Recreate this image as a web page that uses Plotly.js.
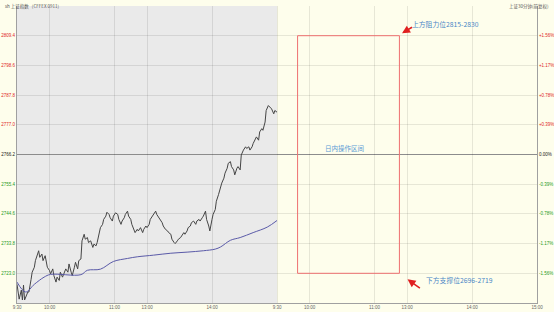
<!DOCTYPE html>
<html>
<head>
<meta charset="utf-8">
<script src="https://cdn.plot.ly/plotly-3.0.1.min.js"></script>
<style>html,body{margin:0;padding:0;background:#FEFEEC;}#chart{width:554px;height:312px;}</style>
</head>
<body>
<div id="chart"></div>
<script>
// Day-1 intraday price (minutes since 9:30, trading time)
const priceT = [0,2,4,5,6,7,10,11,13,14,16,17,20,21,23,24,26,28,30,31,33,34,36,37,39,40,42,43,45,47,48,50,51,53,54,56,57,59,60,62,63,65,66,68,70,71,73,74,76,77,79,80,82,83,85,86,88,89,91,93,94,96,97,99,100,102,103,105,106,108,109,111,112,114,116,117,119,120,122,123,125,126,128,129,131,132,134,135,137,139,140,142,143,145,146,148,149,151,152,154,155,157,158,160,161,163,165,166,168,169,171,172,174,175,177,178,180,181,183,184,186,188,189,191,192,194,195,197,198,200,201,203,204,206,207,209,211,212,214,215,217,218,220,221,223,224,226,227,229,230,232,234,235,237,238,240];
const priceV = [2719.0,2713.6,2716.9,2713.3,2718.7,2713.3,2716.2,2716.2,2720.8,2723.4,2725.2,2727.6,2731.2,2728.8,2730.0,2727.6,2729.4,2725.2,2724.0,2722.8,2724.6,2722.2,2719.8,2721.6,2720.4,2723.4,2721.6,2722.8,2724.6,2723.4,2726.4,2723.4,2722.2,2725.2,2727.0,2724.6,2727.6,2728.2,2734.8,2737.2,2735.4,2736.0,2734.2,2734.8,2732.4,2733.6,2733.0,2734.2,2738.4,2739.6,2740.8,2742.6,2743.8,2745.2,2744.4,2743.2,2742.0,2743.8,2745.0,2744.4,2742.6,2740.8,2742.0,2743.2,2744.4,2745.6,2743.8,2742.6,2740.8,2738.4,2737.8,2739.0,2738.4,2739.6,2737.8,2739.0,2740.2,2739.6,2740.8,2742.6,2743.8,2744.4,2745.6,2744.4,2743.2,2742.6,2741.4,2740.2,2739.0,2738.4,2737.8,2737.2,2735.4,2734.2,2733.8,2734.8,2735.4,2736.0,2736.6,2737.8,2737.2,2738.4,2739.6,2740.2,2741.4,2742.0,2740.8,2742.0,2742.6,2742.0,2743.2,2743.8,2745.6,2742.6,2740.2,2738.4,2742.6,2744.4,2746.2,2749.2,2751.6,2754.6,2755.8,2757.6,2759.4,2761.2,2763.0,2763.6,2761.8,2760.6,2758.8,2761.2,2761.8,2760.6,2766.0,2767.8,2769.0,2768.4,2769.0,2767.8,2769.0,2770.2,2772.0,2772.6,2771.4,2774.4,2775.6,2775.0,2778.0,2782.2,2784.0,2783.4,2782.8,2781.0,2782.2,2781.6];
// Day-1 average price line
const avgT = [0,8,16,25,31,59,65,77,89,102,111,126,142,157,172,183,188,197,206,218,231,240];
const avgV = [2719.8,2716.2,2719.0,2721.6,2722.6,2722.5,2724.1,2724.5,2727.3,2728.4,2729.0,2729.6,2730.3,2730.7,2731.2,2731.8,2732.6,2735.0,2736.0,2737.8,2739.8,2742.2];
// Axes
const prevClose = 2766.2;
const yTickVals = [2723.0,2733.8,2744.6,2755.4,2766.2,2777.0,2787.8,2798.6,2809.4];
const yTickText = ["2723.0","2733.8","2744.6","2755.4","2766.2","2777.0","2787.8","2798.6","2809.4"];
const pctTickText = ["-1.56%","-1.17%","-0.78%","-0.39%","0.00%","+0.39%","+0.78%","+1.17%","+1.56%"];
const xTickVals = [0,30,90,120,180,240,270,330,360,420,480];
const xTickText = ["9:30","10:00","11:00","13:00","14:00","9:30","10:00","11:00","13:00","14:00","15:00"];
// Operating zone and labels
const zoneT = [259, 353];
const zoneP = [2723.0, 2809.4];
const upperLabel = "上方阻力位2815-2830";
const lowerLabel = "下方支撑位2696-2719";
const midLabel = "日内操作区间";

function colorTicks(arr){
  return arr.map((s,i)=>{
    const v = yTickVals[i];
    const c = v > prevClose + 0.01 ? '#E02828' : (v < prevClose - 0.01 ? '#1E9A1E' : '#222');
    return '<span style="color:'+c+'">'+s+'</span>';
  });
}

const FONT = 'Liberation Sans, Arial, Noto Sans CJK SC, sans-serif';
const yr = [2712.2, 2820.2];

const traces = [
  {x: priceT, y: priceV, type:'scatter', mode:'lines', line:{color:'#454545', width:1}, hoverinfo:'skip'},
  {x: avgT, y: avgV, type:'scatter', mode:'lines', line:{color:'#5A5AA8', width:1, shape:'spline'}, hoverinfo:'skip'},
  {x: [0], y: [prevClose], yaxis:'y2', type:'scatter', mode:'markers', marker:{opacity:0}, hoverinfo:'skip'}
];

const layout = {
  width:554, height:312,
  margin:{l:17, r:17, t:6, b:9},
  paper_bgcolor:'#FEFEEC', plot_bgcolor:'#FEFEEC',
  showlegend:false,
  font:{family:FONT, size:4.5, color:'#555'},
  xaxis:{range:[0,480], tickvals:xTickVals, ticktext:xTickText, tickangle:0,
    showgrid:true, gridcolor:'rgba(0,0,0,0.09)', gridwidth:1, zeroline:false,
    showline:true, linecolor:'#A0A0A0', linewidth:1, ticks:'', ticklen:0,
    tickfont:{size:4.5, color:'#666'}, fixedrange:true},
  yaxis:{range:yr, tickvals:yTickVals, ticktext:colorTicks(yTickText), side:'left',
    showgrid:true, gridcolor:'rgba(0,0,0,0.09)', gridwidth:1, zeroline:false,
    showline:true, linecolor:'#A0A0A0', linewidth:1, ticks:'', ticklen:0,
    tickfont:{size:4.5}, fixedrange:true},
  yaxis2:{range:yr, tickvals:yTickVals, ticktext:colorTicks(pctTickText), side:'right', overlaying:'y',
    showgrid:false, zeroline:false, showline:true, linecolor:'#A0A0A0', linewidth:1,
    ticks:'', ticklen:0, tickfont:{size:4.5}, fixedrange:true},
  shapes:[
    {type:'rect', xref:'x', yref:'paper', x0:0, x1:240, y0:0, y1:1, fillcolor:'#EAEAEA', line:{width:0}, layer:'below'},
    {type:'line', xref:'paper', yref:'y', x0:0, x1:1, y0:prevClose, y1:prevClose, line:{color:'#9A9A9A', width:1}, layer:'below'},
    {type:'rect', xref:'x', yref:'y', x0:zoneT[0], x1:zoneT[1], y0:zoneP[0], y1:zoneP[1], line:{color:'#EE7070', width:1}, fillcolor:'rgba(0,0,0,0)'}
  ],
  annotations:[
    {xref:'x', yref:'y', x:395.4, y:2813.7, text:upperLabel, showarrow:false, font:{size:6.8, color:'#4A86C6', family:'Noto Sans CJK SC, sans-serif'}},
    {xref:'x', yref:'y', x:408.7, y:2720.5, text:lowerLabel, showarrow:false, font:{size:6.8, color:'#4A86C6', family:'Noto Sans CJK SC, sans-serif'}},
    {xref:'x', yref:'y', x:302.5, y:2768.7, text:midLabel, showarrow:false, font:{size:6.5, color:'#5B9BD5', family:'Noto Sans CJK SC, sans-serif'}},
    {xref:'x', yref:'y', axref:'x', ayref:'y', x:355.4, y:2810.3, ax:366, ay:2812.8, text:'', showarrow:true, arrowhead:2, arrowsize:1, arrowwidth:1.6, arrowcolor:'#E02020'},
    {xref:'x', yref:'y', axref:'x', ayref:'y', x:360.5, y:2720.8, ax:373.3, ay:2717.2, text:'', showarrow:true, arrowhead:2, arrowsize:1, arrowwidth:1.6, arrowcolor:'#E02020'},
    {xref:'paper', yref:'paper', x:-0.026, y:1.018, xanchor:'left', yanchor:'top', text:'sh 上证指数&nbsp;&nbsp;&nbsp;(CFFEX 0911)', showarrow:false, font:{size:4.5, color:'#555', family:'Noto Sans CJK SC, sans-serif'}},
    {xref:'paper', yref:'paper', x:1.026, y:1.018, xanchor:'right', yanchor:'top', text:'上证30分钟(前复权)', showarrow:false, font:{size:4.5, color:'#555', family:'Noto Sans CJK SC, sans-serif'}}
  ]
};

Plotly.newPlot('chart', traces, layout, {displayModeBar:false, staticPlot:true});
</script>
</body>
</html>
